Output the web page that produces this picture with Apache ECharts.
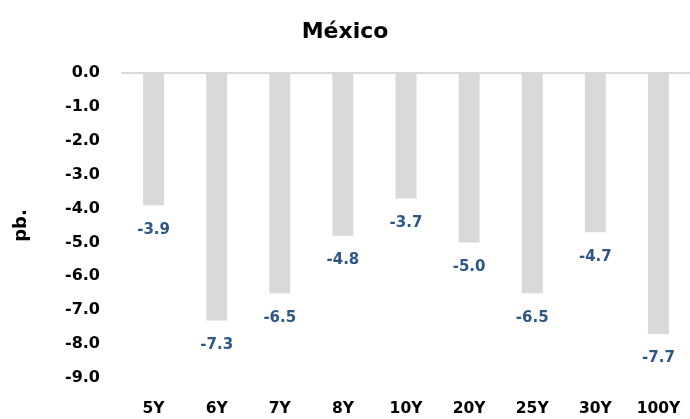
<!DOCTYPE html>
<html>
<head>
<meta charset="utf-8">
<script src="https://cdn.jsdelivr.net/npm/echarts@6/dist/echarts.min.js"></script>
<style>
  html, body { margin: 0; padding: 0; background: #fff; }
  #main { width: 690px; height: 419px; }
</style>
</head>
<body>
<div id="main"></div>
<script>
// datos
var plazos = ['5Y', '6Y', '7Y', '8Y', '10Y', '20Y', '25Y', '30Y', '100Y']
var cambios = [-3.9, -7.3, -6.5, -4.8, -3.7, -5.0, -6.5, -4.7, -7.7]

var fuente = 'DejaVu Sans'
var myChart = echarts.init(document.getElementById('main'))

var option = {
  backgroundColor: '#fff',
  title: {
    text: 'México',
    left: 'center',
    top: 16,
    textStyle: { fontFamily: fuente, fontWeight: 'bold', fontSize: 22, color: '#000' }
  },
  grid: { left: 122, right: -3, top: 73, bottom: 41 },
  xAxis: [
    {
      type: 'category',
      data: plazos,
      position: 'bottom',
      axisLine: { show: false },
      axisTick: { show: false },
      axisLabel: {
        margin: 23,
        fontFamily: fuente,
        fontWeight: 'bold',
        fontSize: 15.5,
        color: '#000'
      }
    },
    {
      type: 'category',
      data: plazos,
      position: 'top',
      axisLine: { show: true, lineStyle: { color: '#d9d9d9', width: 2 } },
      axisTick: { show: false },
      axisLabel: { show: false }
    }
  ],
  yAxis: {
    type: 'value',
    min: -9,
    max: 0,
    interval: 1,
    name: 'pb.',
    nameLocation: 'middle',
    nameGap: 92,
    nameRotate: 90,
    nameTextStyle: { fontFamily: fuente, fontWeight: 'bold', fontSize: 18, color: '#000' },
    axisLine: { show: false },
    axisTick: { show: false },
    splitLine: { show: false },
    axisLabel: {
      margin: 22,
      fontFamily: fuente,
      fontWeight: 'bold',
      fontSize: 16,
      color: '#000',
      formatter: function (v) { return v.toFixed(1) }
    }
  },
  series: [
    {
      type: 'bar',
      data: cambios,
      barWidth: 21,
      itemStyle: { color: '#d9d9d9' },
      label: {
        show: true,
        position: 'bottom',
        distance: 17,
        fontFamily: fuente,
        fontWeight: 'bold',
        fontSize: 15,
        color: '#2f5786',
        formatter: function (p) { return p.value.toFixed(1) }
      }
    }
  ]
}
myChart.setOption(option)
</script>
</body>
</html>
